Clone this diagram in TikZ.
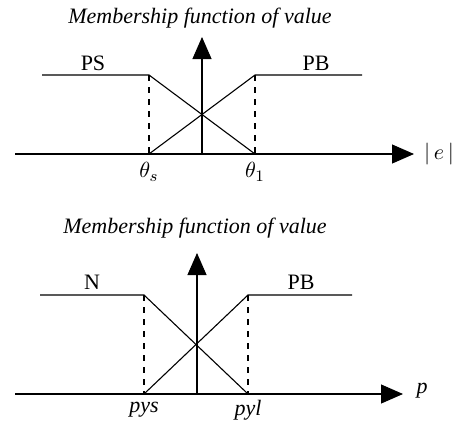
\documentclass[tikz,border=0pt]{standalone}
\usepackage{fontspec}
\setmainfont{Liberation Serif}
\usetikzlibrary{arrows.meta}

\begin{document}
\begin{tikzpicture}[x=0.5pt, y=-0.5pt, >={Triangle[length=11pt,width=9.5pt]},
    font=\fontsize{11}{13}\selectfont, line width=0.55pt]
    \useasboundingbox (0,0) rectangle (454,423);

    % Upper plot: axes
    \coordinate (L1) at (15,154);
    \coordinate (R1) at (414,154);
    \coordinate (O1) at (202,154);
    \coordinate (T1) at (202,37);
    \draw[->] (L1) -- (R1);
    \draw[->] (O1) -- (T1);

    % Upper plot: membership functions
    \coordinate (ps1) at (42,75);
    \coordinate (ps2) at (149,75);
    \coordinate (ps3) at (149,154);
    \coordinate (pb1) at (255,75);
    \coordinate (pb2) at (362,75);
    \coordinate (pb3) at (255,154);
    \draw (ps1) -- (ps2) -- (pb3);
    \draw (ps3) -- (pb1) -- (pb2);
    \draw[dashed] (ps2) -- (ps3);
    \draw[dashed] (pb1) -- (pb3);

    % Upper plot: labels
    \node (title1) at (200,18) {\textit{Membership function of value}};
    \node (PS) at (93,63) {PS};
    \node (PB1) at (316,63) {PB};
    \node (ths) at (149,172) {$\theta_s$};
    \node (thl) at (255,172) {$\theta_1$};
    \node[anchor=west] (e) at (417,154) {$|\,e\,|$};

    % Lower plot: axes
    \coordinate (L2) at (15,394);
    \coordinate (R2) at (403,394);
    \coordinate (O2) at (197,394);
    \coordinate (T2) at (197,253);
    \draw[->] (L2) -- (R2);
    \draw[->] (O2) -- (T2);

    % Lower plot: membership functions
    \coordinate (n1) at (40,295);
    \coordinate (n2) at (144,295);
    \coordinate (n3) at (144,394);
    \coordinate (pc1) at (248,295);
    \coordinate (pc2) at (352,295);
    \coordinate (pc3) at (248,394);
    \draw (n1) -- (n2) -- (pc3);
    \draw (n3) -- (pc1) -- (pc2);
    \draw[dashed] (n2) -- (n3);
    \draw[dashed] (pc1) -- (pc3);

    % Lower plot: labels
    \node (title2) at (195,228) {\textit{Membership function of value}};
    \node (N) at (92,282) {N};
    \node (PB2) at (301,282) {PB};
    \node (pys) at (144,410) {\textit{pys}};
    \node (pyl) at (248,410) {\textit{pyl}};
    \node (p) at (422,391) {\textit{p}};

\end{tikzpicture}
\end{document}
